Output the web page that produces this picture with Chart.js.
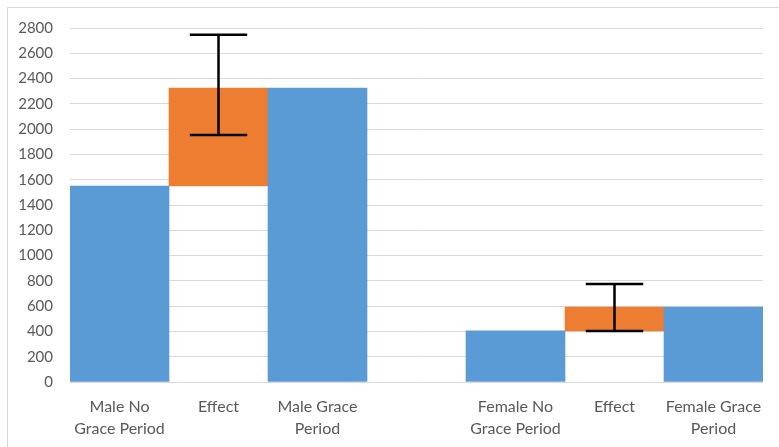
<!DOCTYPE html>
<html>
<head>
<meta charset="utf-8">
<script src="https://cdn.jsdelivr.net/npm/chart.js@4"></script>
<style>
  html, body { margin: 0; padding: 0; background: #fff; overflow: hidden; }
  #frame { position: absolute; left: 7px; top: 7px; width: 800px; height: 460px; border: 1px solid #d9d9d9; }
  #wrap { position: absolute; left: 0; top: 0; width: 779px; height: 447px; }
</style>
</head>
<body>
<div id="frame"></div>
<div id="wrap"><canvas id="chart" width="779" height="447"></canvas></div>
<script>
const categories = [
  ['Male No', 'Grace Period'], 'Effect', ['Male Grace', 'Period'], '',
  ['Female No', 'Grace Period'], 'Effect', ['Female Grace', 'Period']
];
// invisible base under the effect bars
const baseValues = [null, 1550, null, null, null, 405, null];
const groupValues = [1550, null, 2325, null, 405, null, 593];
const effectValues = [null, 775, null, null, null, 188, null];
const errLow = [null, 1953, null, null, null, 403, null];
const errHigh = [null, 2747, null, null, null, 775, null];
const yTicks = [0, 200, 400, 600, 800, 1000, 1200, 1400, 1600, 1800, 2000, 2200, 2400, 2600, 2800];

const errorBars = {
  id: 'errorBars',
  afterDatasetsDraw(chart) {
    const ctx = chart.ctx;
    const x = chart.scales.x, y = chart.scales.y;
    const meta = chart.getDatasetMeta(2);
    ctx.save();
    ctx.strokeStyle = '#000';
    ctx.lineWidth = 2.5;
    errLow.forEach((lo, i) => {
      if (lo == null) return;
      const cx = x.getPixelForValue(i);
      const half = meta.data[i].width * 0.29;
      const yl = y.getPixelForValue(lo), yh = y.getPixelForValue(errHigh[i]);
      ctx.beginPath();
      ctx.moveTo(cx, yl); ctx.lineTo(cx, yh);
      ctx.moveTo(cx - half, yh); ctx.lineTo(cx + half, yh);
      ctx.moveTo(cx - half, yl); ctx.lineTo(cx + half, yl);
      ctx.stroke();
    });
    ctx.restore();
  }
};

new Chart(document.getElementById('chart'), {
  type: 'bar',
  data: {
    labels: categories,
    datasets: [
      { data: baseValues, backgroundColor: 'rgba(0,0,0,0)' },
      { data: groupValues, backgroundColor: '#5b9bd5' },
      { data: effectValues, backgroundColor: '#ed7d31' }
    ]
  },
  options: {
    responsive: false,
    animation: false,
    layout: { padding: { left: 0, right: 16, top: 28, bottom: 0 } },
    datasets: { bar: { categoryPercentage: 1, barPercentage: 1 } },
    plugins: { legend: { display: false }, tooltip: { enabled: false } },
    scales: {
      x: {
        stacked: true,
        grid: { display: false },
        border: { display: false },
        ticks: { color: '#595959', font: { family: 'Lato', size: 16, lineHeight: 1.375 }, padding: 6, maxRotation: 0, autoSkip: false },
        afterFit: s => { s.height = 65; }
      },
      y: {
        stacked: true,
        min: 0,
        max: 2800,
        afterBuildTicks: s => { s.ticks = yTicks.map(v => ({ value: v })); },
        grid: { color: '#d9d9d9', lineWidth: 1, drawTicks: false },
        border: { display: false },
        ticks: { color: '#595959', font: { family: 'Lato', size: 15 }, padding: 17, callback: v => String(v) },
        afterFit: s => { s.width = 70; }
      }
    }
  },
  plugins: [errorBars]
});
</script>
</body>
</html>
